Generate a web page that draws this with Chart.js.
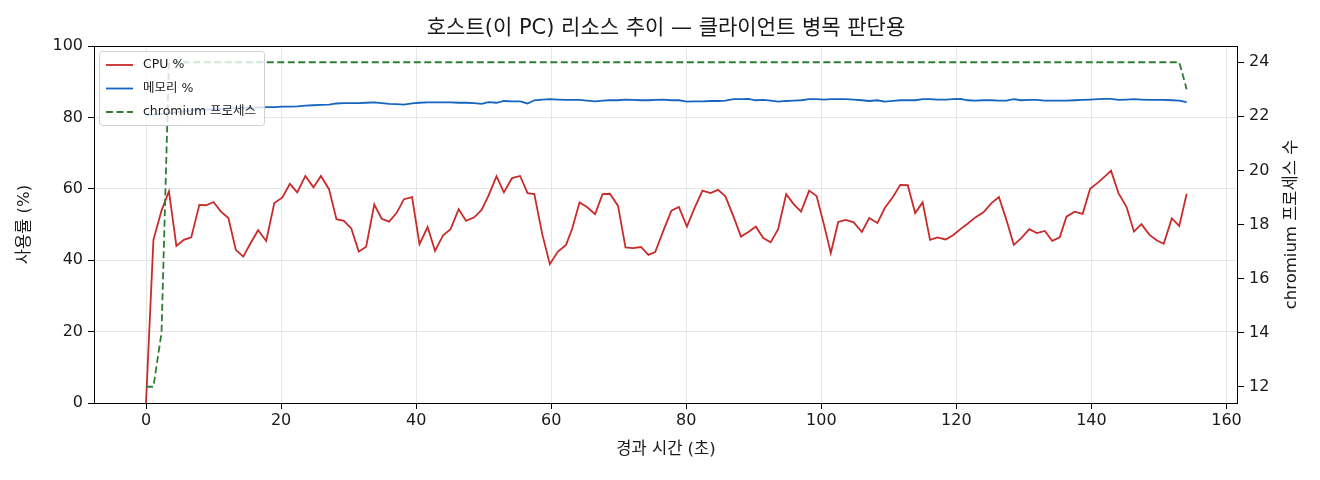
<!DOCTYPE html>
<html>
<head>
<meta charset="utf-8">
<script src="https://cdn.jsdelivr.net/npm/chart.js@4.4.1/dist/chart.umd.min.js"></script>
<style>
  html, body { margin: 0; padding: 0; background: #fff; }
  canvas { display: block; }
</style>
</head>
<body>
<canvas id="resourceChart" width="1320" height="480"></canvas>
<script>
const FONT = `"DejaVu Sans", "Noto Sans CJK KR", sans-serif`
const TITLE = `호스트(이 PC) 리소스 추이 — 클라이언트 병목 판단용`
const Y1_TITLE = `chromium 프로세스 수`

// elapsed seconds for each sample
const times = [
  0, 1.1, 2.3, 3.4, 4.5, 5.6, 6.7, 7.9, 8.9, 10.0,
  11.1, 12.2, 13.3, 14.4, 15.5, 16.6, 17.8, 19.0, 20.2, 21.3,
  22.4, 23.6, 24.8, 25.9, 27.1, 28.2, 29.3, 30.4, 31.5, 32.6,
  33.8, 34.9, 36.0, 37.1, 38.2, 39.4, 40.5, 41.7, 42.8, 44.0,
  45.1, 46.3, 47.4, 48.6, 49.7, 50.7, 51.9, 53.0, 54.2, 55.4,
  56.5, 57.5, 58.7, 59.8, 61.0, 62.2, 63.1, 64.2, 65.3, 66.5,
  67.6, 68.7, 69.9, 71.0, 72.1, 73.3, 74.4, 75.4, 76.6, 77.8,
  78.9, 80.1, 81.2, 82.4, 83.6, 84.7, 85.8, 87.0, 88.1, 89.2,
  90.3, 91.4, 92.5, 93.6, 94.8, 95.9, 97.0, 98.2, 99.3, 100.4,
  101.4, 102.5, 103.6, 104.8, 106.0, 107.1, 108.3, 109.4, 110.6, 111.7,
  112.8, 113.9, 115.0, 116.1, 117.2, 118.4, 119.5, 120.6, 121.7, 122.8,
  124.0, 125.2, 126.3, 127.4, 128.5, 129.6, 130.8, 131.9, 133.1, 134.2,
  135.3, 136.3, 137.5, 138.7, 139.8, 141.0, 142.0, 142.9, 144.0, 145.2,
  146.3, 147.4, 148.6, 149.7, 150.7, 151.9, 153.0, 154.1
]

const cpuPct = [
  0, 45.7, 53.9, 59.3, 44.0, 45.7, 46.4, 55.5, 55.4, 56.3,
  53.6, 51.8, 42.9, 41.0, 44.8, 48.4, 45.4, 56.0, 57.6, 61.4,
  59.0, 63.6, 60.4, 63.6, 59.9, 51.5, 51.0, 48.9, 42.4, 43.8,
  55.6, 51.6, 50.8, 53.2, 57.1, 57.7, 44.5, 49.3, 42.6, 47.0,
  48.7, 54.3, 51.0, 52.0, 54.1, 58.0, 63.5, 59.0, 63.0, 63.6,
  58.8, 58.5, 47.1, 38.9, 42.4, 44.3, 48.8, 56.2, 54.9, 52.9,
  58.5, 58.6, 55.2, 43.6, 43.4, 43.7, 41.5, 42.3, 48.2, 53.9,
  54.9, 49.4, 54.5, 59.5, 58.8, 59.7, 57.9, 52.2, 46.6, 47.9,
  49.4, 46.2, 45.0, 48.7, 58.5, 55.7, 53.6, 59.5, 58.0, 49.9,
  42.0, 50.7, 51.3, 50.6, 47.9, 51.8, 50.4, 54.6, 57.7, 61.1,
  61.0, 53.2, 56.2, 45.7, 46.4, 45.8, 47.0, 48.7, 50.3, 52.0,
  53.4, 56.0, 57.7, 51.3, 44.3, 46.2, 48.7, 47.6, 48.2, 45.4,
  46.4, 52.2, 53.6, 53.0, 60.0, 61.8, 63.5, 65.1, 58.8, 54.9,
  48.0, 50.1, 47.1, 45.5, 44.6, 51.7, 49.6, 58.6
]

const memPct = [
  80.5, 80.8, 81.0, 81.2, 81.4, 81.7, 82.0, 82.1, 82.2, 82.3,
  82.3, 82.5, 82.6, 82.7, 82.7, 82.8, 82.9, 82.9, 83.0, 83.0,
  83.1, 83.3, 83.4, 83.5, 83.6, 83.9, 84.0, 84.0, 84.0, 84.1,
  84.2, 84.0, 83.8, 83.7, 83.6, 83.9, 84.1, 84.2, 84.2, 84.2,
  84.2, 84.1, 84.1, 84.0, 83.8, 84.3, 84.1, 84.6, 84.5, 84.5,
  83.9, 84.8, 85.0, 85.1, 85.0, 84.9, 84.9, 84.9, 84.7, 84.5,
  84.7, 84.8, 84.8, 85.0, 84.9, 84.8, 84.8, 84.9, 85.0, 84.8,
  84.8, 84.4, 84.5, 84.5, 84.6, 84.6, 84.7, 85.1, 85.1, 85.2,
  84.8, 84.9, 84.7, 84.4, 84.6, 84.7, 84.8, 85.1, 85.1, 85.0,
  85.1, 85.1, 85.1, 85.0, 84.8, 84.6, 84.8, 84.4, 84.6, 84.8,
  84.8, 84.8, 85.1, 85.1, 85.0, 85.0, 85.1, 85.2, 84.8, 84.7,
  84.8, 84.8, 84.7, 84.7, 85.1, 84.8, 84.9, 84.9, 84.7, 84.7,
  84.7, 84.7, 84.8, 84.9, 85.0, 85.1, 85.2, 85.2, 84.9, 85.0,
  85.1, 85.0, 84.9, 84.9, 84.9, 84.8, 84.7, 84.3
]

const chromiumProcs = [
  12, 12, 14, 24, 24, 24, 24, 24, 24, 24,
  24, 24, 24, 24, 24, 24, 24, 24, 24, 24,
  24, 24, 24, 24, 24, 24, 24, 24, 24, 24,
  24, 24, 24, 24, 24, 24, 24, 24, 24, 24,
  24, 24, 24, 24, 24, 24, 24, 24, 24, 24,
  24, 24, 24, 24, 24, 24, 24, 24, 24, 24,
  24, 24, 24, 24, 24, 24, 24, 24, 24, 24,
  24, 24, 24, 24, 24, 24, 24, 24, 24, 24,
  24, 24, 24, 24, 24, 24, 24, 24, 24, 24,
  24, 24, 24, 24, 24, 24, 24, 24, 24, 24,
  24, 24, 24, 24, 24, 24, 24, 24, 24, 24,
  24, 24, 24, 24, 24, 24, 24, 24, 24, 24,
  24, 24, 24, 24, 24, 24, 24, 24, 24, 24,
  24, 24, 24, 24, 24, 24, 24, 23
]

const COLORS = {
  cpu: `#c92a2a`,
  mem: `#1565c0`,
  procs: `#2e7d32`,
  grid: `#e6e6e6`,
  text: `#1a1a1a`
}

const toPoints = values => values.map((y, i) => ({ x: times[i], y }))

// full box round the plot, legend in the upper left corner, titles
const framePlugin = {
  id: `frame`,
  afterDraw(chart) {
    const { ctx, chartArea: a } = chart
    ctx.save()
    ctx.strokeStyle = `#000`
    ctx.lineWidth = 1
    ctx.strokeRect(Math.round(a.left) + 0.5, Math.round(a.top) + 0.5,
      Math.round(a.right - a.left) - 1, Math.round(a.bottom - a.top))

    ctx.fillStyle = COLORS.text
    ctx.font = `21px ${FONT}`
    ctx.textAlign = `center`
    ctx.textBaseline = `middle`
    ctx.fillText(TITLE, (a.left + a.right) / 2, 29)

    // right axis title, reading upwards like the left one
    ctx.save()
    ctx.font = `16.5px ${FONT}`
    ctx.translate(1292, (a.top + a.bottom) / 2)
    ctx.rotate(-Math.PI / 2)
    ctx.fillText(Y1_TITLE, 0, 0)
    ctx.restore()

    // legend
    ctx.font = `12.5px ${FONT}`
    const widest = Math.max(...chart.data.datasets.map(ds => ctx.measureText(ds.label).width))
    const bx = a.left + 5, by = a.top + 5, bw = widest + 52, bh = 74
    ctx.fillStyle = `rgba(255,255,255,0.8)`
    ctx.strokeStyle = `#d0d0d0`
    ctx.beginPath()
    ctx.roundRect(bx + 0.5, by + 0.5, bw, bh, 3)
    ctx.fill()
    ctx.stroke()
    ctx.textAlign = `left`
    chart.data.datasets.forEach((ds, i) => {
      const y = by + 14 + i * 23.5
      ctx.strokeStyle = ds.borderColor
      ctx.lineWidth = ds.borderWidth
      ctx.setLineDash(ds.borderDash || [])
      ctx.beginPath()
      ctx.moveTo(bx + 7, y)
      ctx.lineTo(bx + 34, y)
      ctx.stroke()
      ctx.setLineDash([])
      ctx.fillStyle = COLORS.text
      ctx.fillText(ds.label, bx + 44, y)
    })
    ctx.restore()
  }
}

const tickFont = { family: FONT, size: 16 }
const titleFont = { family: FONT, size: 16.5 }

new Chart(document.getElementById(`resourceChart`), {
  type: `line`,
  data: {
    datasets: [
      {
        label: `CPU %`,
        data: toPoints(cpuPct),
        borderColor: COLORS.cpu,
        borderWidth: 1.8,
        yAxisID: `y`,
        order: 3
      },
      {
        label: `메모리 %`,
        data: toPoints(memPct),
        borderColor: COLORS.mem,
        borderWidth: 1.8,
        yAxisID: `y`,
        order: 2
      },
      {
        label: `chromium 프로세스`,
        data: toPoints(chromiumProcs),
        borderColor: COLORS.procs,
        borderWidth: 1.8,
        borderDash: [7, 3.5],
        yAxisID: `y1`,
        order: 1
      }
    ]
  },
  options: {
    responsive: false,
    animation: false,
    devicePixelRatio: 1,
    layout: { padding: { top: 46, left: 0, right: 0, bottom: 0 } },
    elements: {
      point: { radius: 0 },
      line: { tension: 0, fill: false }
    },
    plugins: {
      legend: { display: false },
      tooltip: { enabled: false }
    },
    scales: {
      x: {
        type: `linear`,
        min: -7.7,
        max: 161.7,
        afterFit: s => { s.height = 77 },
        ticks: { stepSize: 20, includeBounds: false, color: COLORS.text, font: tickFont, padding: 2, maxRotation: 0 },
        grid: { color: COLORS.grid, tickColor: `#000`, tickLength: 6 },
        border: { display: false },
        title: { display: true, text: `경과 시간 (초)`, color: COLORS.text, font: titleFont, padding: { top: 0, bottom: 20 } }
      },
      y: {
        position: `left`,
        min: 0,
        max: 100,
        afterFit: s => { s.width = 94 },
        ticks: { stepSize: 20, color: COLORS.text, font: tickFont, padding: 5 },
        grid: { color: COLORS.grid, tickColor: `#000`, tickLength: 6 },
        border: { display: false },
        title: { display: true, text: `사용률 (%)`, color: COLORS.text, font: titleFont, padding: { top: 15, bottom: 0 } }
      },
      y1: {
        position: `right`,
        min: 11.4,
        max: 24.6,
        afterFit: s => { s.width = 82 },
        ticks: { stepSize: 2, includeBounds: false, color: COLORS.text, font: tickFont, padding: 5 },
        grid: { drawOnChartArea: false, tickColor: `#000`, tickLength: 6 },
        border: { display: false },
        title: { display: false }
      }
    }
  },
  plugins: [framePlugin]
})
</script>
</body>
</html>
